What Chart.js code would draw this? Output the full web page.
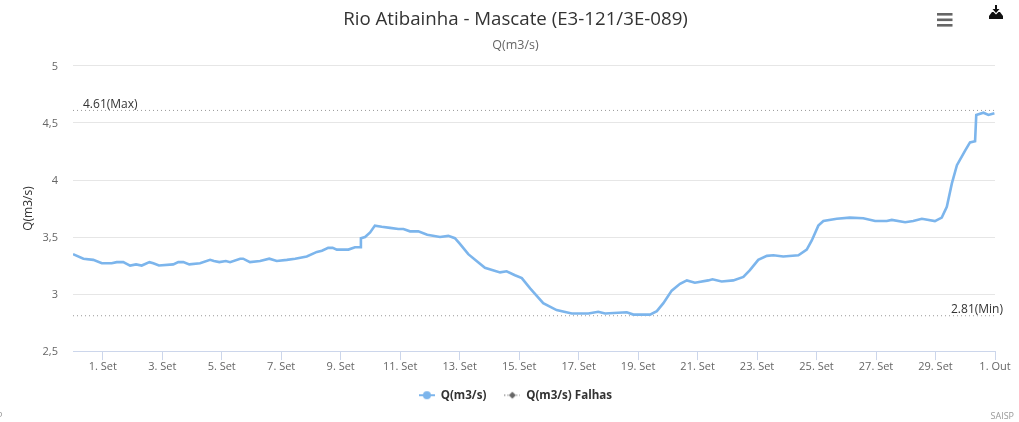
<!DOCTYPE html>
<html>
<head>
<meta charset="utf-8">
<title>Rio Atibainha - Mascate</title>
<script src="https://cdn.jsdelivr.net/npm/chart.js@4"></script>
<style>
html,body{margin:0;padding:0;background:#fff}
canvas{display:block;filter:blur(0.35px)}
</style>
</head>
<body>
<canvas id="c" width="1019" height="422"></canvas>
<script>
const chartTitle = "Rio Atibainha - Mascate (E3-121/3E-089)";
const chartSubtitle = "Q(m3/s)";
const yAxisTitle = "Q(m3/s)";
const seriesName = "Q(m3/s)";
const failSeriesName = "Q(m3/s) Falhas";
const creditText = "SAISP";

const days = [0,0.35,0.68,0.97,1.3,1.47,1.69,1.92,2.12,2.31,2.57,2.7,2.89,3.37,3.54,3.71,3.91,4.27,4.61,4.74,4.92,5.14,5.28,5.62,5.72,5.95,6.29,6.6,6.85,7.19,7.47,7.86,8.2,8.37,8.58,8.73,8.87,9.09,9.26,9.48,9.65,9.68,9.82,9.99,10.15,10.38,10.66,10.94,11.11,11.33,11.61,11.91,12.34,12.62,12.84,13.01,13.29,13.57,13.85,14.36,14.58,14.86,15.09,15.37,15.81,16.26,16.77,17.33,17.66,17.89,18.62,18.84,19.4,19.63,19.85,20.13,20.41,20.64,20.91,21.36,21.5,21.81,22.2,22.54,22.76,23.04,23.33,23.55,23.88,24.39,24.67,24.84,25.06,25.23,25.68,26.12,26.57,26.97,27.36,27.53,27.98,28.25,28.54,28.98,29.21,29.38,29.55,29.72,30,30.16,30.33,30.37,30.61,30.78,30.98];
const flow = [3.35,3.31,3.3,3.27,3.27,3.28,3.28,3.25,3.26,3.25,3.28,3.27,3.25,3.26,3.28,3.28,3.26,3.27,3.3,3.29,3.28,3.29,3.28,3.31,3.31,3.28,3.29,3.31,3.29,3.3,3.31,3.33,3.37,3.38,3.405,3.405,3.39,3.39,3.39,3.41,3.41,3.49,3.5,3.54,3.6,3.59,3.58,3.57,3.57,3.55,3.55,3.52,3.5,3.51,3.49,3.44,3.35,3.29,3.23,3.19,3.2,3.165,3.14,3.05,2.92,2.86,2.83,2.83,2.845,2.83,2.84,2.82,2.82,2.85,2.92,3.03,3.09,3.12,3.1,3.12,3.13,3.11,3.12,3.15,3.21,3.3,3.335,3.34,3.33,3.34,3.39,3.47,3.6,3.64,3.66,3.67,3.665,3.64,3.64,3.65,3.63,3.64,3.66,3.64,3.67,3.765,3.97,4.13,4.26,4.33,4.34,4.57,4.59,4.57,4.585];

const xMin = 0, xMax = 31;
const tickDays = [1,3,5,7,9,11,13,15,17,19,21,23,25,27,29,31];
const tickLabels = ["1. Set","3. Set","5. Set","7. Set","9. Set","11. Set","13. Set","15. Set","17. Set","19. Set","21. Set","23. Set","25. Set","27. Set","29. Set","1. Out"];
const yTicks = [2.5,3,3.5,4,4.5,5];
const yTickLabels = ["2,5","3","3,5","4","4,5","5"];
const maxValue = 4.61, minValue = 2.81;
const maxLabel = "4.61(Max)", minLabel = "2.81(Min)";

const FONT = "'Open Sans', sans-serif";

function legendSymbol(color, kind){
  const cv = document.createElement('canvas');
  cv.width = 16; cv.height = 10;
  const g = cv.getContext('2d');
  g.strokeStyle = color; g.fillStyle = color; g.lineWidth = 2;
  if (kind === 'diamond') { g.setLineDash([1,2]); g.lineWidth = 1; }
  g.beginPath(); g.moveTo(0,5); g.lineTo(16,5); g.stroke();
  g.beginPath();
  if (kind === 'diamond') { g.moveTo(8,1.5); g.lineTo(11.5,5); g.lineTo(8,8.5); g.lineTo(4.5,5); g.closePath(); }
  else { g.arc(8,5,4,0,Math.PI*2); }
  g.fill();
  return cv;
}
const symMain = legendSymbol('#7cb5ec','circle');
const symFail = legendSymbol('#666666','diamond');

const overlay = {
  id:'overlay',
  afterDraw(chart){
    const {ctx, scales:{x,y}} = chart;
    ctx.save();
    ctx.font = "12px " + FONT;
    ctx.fillStyle = '#333333';
    ctx.textBaseline = 'middle';
    ctx.textAlign = 'left';
    ctx.fillText(maxLabel, x.getPixelForValue(xMin)+10, y.getPixelForValue(maxValue)-6);
    ctx.textAlign = 'right';
    ctx.fillText(minLabel, x.getPixelForValue(xMax)+8, y.getPixelForValue(minValue)-6.5);
    ctx.font = "9px " + FONT;
    ctx.fillStyle = '#999999';
    ctx.fillText(creditText, 1014, 416);
    ctx.textAlign = 'left';
    ctx.fillText('P', -3, 416);
    // menu icon
    ctx.fillStyle = '#666666';
    [13,18.5,24].forEach(t => ctx.fillRect(937,t,15.5,2.6));
    // download icon
    ctx.fillStyle = '#111111';
    ctx.beginPath();
    ctx.moveTo(992,12); ctx.lineTo(989,16); ctx.lineTo(989,19); ctx.lineTo(1003,19); ctx.lineTo(1003,16); ctx.lineTo(1000,12);
    ctx.lineTo(998.5,12); ctx.lineTo(996,14.6); ctx.lineTo(993.5,12);
    ctx.closePath(); ctx.fill();
    ctx.beginPath();
    ctx.moveTo(995,5); ctx.lineTo(997,5); ctx.lineTo(997,9); ctx.lineTo(999.5,9); ctx.lineTo(996,13); ctx.lineTo(992.5,9); ctx.lineTo(995,9);
    ctx.closePath(); ctx.fill();
    ctx.restore();
  }
};

new Chart(document.getElementById('c'), {
  type:'line',
  data:{datasets:[
    {label:seriesName, data:days.map((d,i)=>({x:d,y:flow[i]})), borderColor:'#7cb5ec', backgroundColor:'#7cb5ec', borderWidth:2.6, pointRadius:0, tension:0, order:1},
    {label:failSeriesName, data:[], borderColor:'#666666', backgroundColor:'#666666', borderWidth:1, pointRadius:0},
    {label:'max', data:[{x:xMin,y:maxValue},{x:xMax,y:maxValue}], borderColor:'#999999', borderWidth:1, borderDash:[1,3], pointRadius:0, order:2},
    {label:'min', data:[{x:xMin,y:minValue},{x:xMax,y:minValue}], borderColor:'#999999', borderWidth:1, borderDash:[1,3], pointRadius:0, order:2}
  ]},
  options:{
    responsive:false, animation:false,
    layout:{padding:{left:36,right:24,top:0,bottom:11}},
    interaction:{mode:'nearest',intersect:false},
    scales:{
      x:{type:'linear',min:xMin,max:xMax,
        afterBuildTicks(s){ s.ticks = tickDays.map(v=>({value:v})); },
        afterFit(s){ s.height = 20.3; },
        grid:{drawOnChartArea:false,drawTicks:true,tickLength:9,tickColor:'#ccd6eb',color:'#ccd6eb'},
        border:{color:'#ccd6eb',width:1},
        ticks:{autoSkip:false,maxRotation:0,minRotation:0,padding:0,color:'#666666',font:{family:FONT,size:11},
          callback(v){ const i=tickDays.indexOf(v); return i<0?'':tickLabels[i]; }}
      },
      y:{min:2.5,max:5,
        afterBuildTicks(s){ s.ticks = yTicks.map(v=>({value:v})); },
        afterFit(s){ s.width = 37; },
        grid:{color:'#e6e6e6',drawTicks:false},
        border:{display:false},
        ticks:{padding:15,labelOffset:1,color:'#666666',font:{family:FONT,size:11},
          callback(v){ const i=yTicks.indexOf(v); return i<0?'':yTickLabels[i]; }},
        title:{display:true,text:yAxisTitle,color:'#333333',font:{family:FONT,size:12},padding:{top:-15,bottom:0}}
      }
    },
    plugins:{
      tooltip:{enabled:false},
      title:{display:true,text:chartTitle,color:'#333333',font:{family:FONT,size:18.7,weight:'normal'},padding:{top:8,bottom:7}},
      subtitle:{display:true,text:chartSubtitle,color:'#666666',font:{family:FONT,size:12.5,weight:'normal'},padding:{top:0,bottom:13.5}},
      legend:{position:'bottom',
        labels:{usePointStyle:true,pointStyleWidth:16,padding:18,color:'#333333',font:{family:FONT,size:11.6,weight:'bold'},
          generateLabels(chart){
            return [
              {text:seriesName,pointStyle:symMain,fillStyle:'#7cb5ec',strokeStyle:'#7cb5ec',fontColor:'#333333',datasetIndex:0},
              {text:failSeriesName,pointStyle:symFail,fillStyle:'#666666',strokeStyle:'#666666',fontColor:'#333333',datasetIndex:1}
            ];
          }
        }
      }
    }
  },
  plugins:[overlay]
});
</script>
</body>
</html>
